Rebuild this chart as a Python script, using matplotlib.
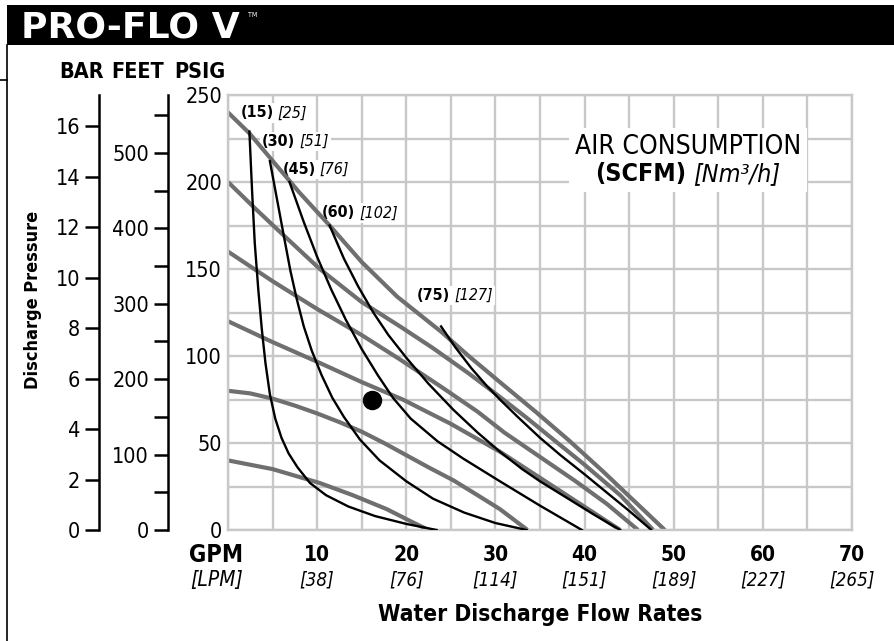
import matplotlib
matplotlib.use("Agg")
import matplotlib.pyplot as plt
from matplotlib.patches import Rectangle
from matplotlib.lines import Line2D
from matplotlib.offsetbox import TextArea, HPacker, VPacker, AnnotationBbox

plt.rcParams['font.family'] = ['DejaVu Sans']
plt.rcParams['font.stretch'] = 'condensed'

W, H = 895, 641

# water flow ticks
gpm_ticks = [10, 20, 30, 40, 50, 60, 70]
lpm_ticks = [38, 76, 114, 151, 189, 227, 265]

# pump curves at fixed air supply pressure (gray): (gpm, psig)
air_curves = {
    240: [(0, 240), (2.4, 228), (4.7, 214), (8, 194), (11.4, 175), (15, 154), (19, 134), (23.9, 114),
          (27, 100), (30.5, 85), (34.5, 68), (38.2, 51.7), (42, 34), (45.5, 17), (49, 0)],
    200: [(0, 200), (3, 185), (6, 170.5), (10.3, 150), (15, 131), (19.3, 117), (23, 104.5), (27, 90),
          (30.5, 76.5), (33.5, 64.5), (36.5, 52), (40, 37.5), (44, 20), (47.7, 0)],
    160: [(0, 160), (5, 143), (10, 127), (15, 112), (19.3, 98), (24, 82), (28, 68), (31, 56),
          (35, 42), (39, 28), (42.5, 15), (46, 0)],
    120: [(0, 120), (5, 108), (10.3, 96), (15, 85), (19.6, 75), (25, 61), (30.5, 45), (35, 30),
          (39.5, 15), (44, 0)],
    80: [(0, 80), (2.5, 78.5), (5, 75.5), (7.5, 71.5), (10, 67), (12.5, 62), (15, 56.5), (17.5, 50),
         (20, 43), (22.5, 36), (25.3, 28.5), (28, 20), (30.5, 12), (33.6, 0)],
    40: [(0, 40), (5, 35), (10.3, 27), (14, 20), (17.8, 12), (20.5, 5), (22.5, 0)],
}

# air consumption curves (black), SCFM: (gpm, psig)
scfm = [15, 30, 45, 60, 75]
nm3h = [25, 51, 76, 102, 127]
consumption_curves = [
    [(2.4, 229), (2.7, 195), (3.0, 165), (3.4, 138), (3.8, 115), (4.2, 96), (4.7, 78), (5.3, 64),
     (6, 53), (6.8, 44), (7.8, 36), (9.2, 27), (11, 20), (13.5, 13.5), (16.5, 8), (20, 3.5), (23.4, 0)],
    [(4.7, 212), (5.5, 190), (6.3, 168), (7, 149), (7.7, 133), (8.5, 117), (9.4, 103), (10.5, 89),
     (11.7, 76), (13, 65), (14.8, 52), (17, 40), (20, 28), (23, 18), (26.5, 10), (30, 4), (33.5, 0)],
    [(6.9, 200), (8.5, 177), (10, 157), (11.6, 138), (13.2, 121), (15, 104), (16.8, 89), (18.5, 76),
     (20.5, 64), (23.5, 51), (26.4, 41), (30.5, 28), (35, 14), (39.7, 0)],
    [(11.4, 175), (13, 156), (14.6, 140), (16.3, 125), (18, 112), (20, 99), (22.5, 84), (25.3, 69),
     (28, 56), (30.5, 45), (33, 35), (35, 28), (38, 18.5), (41, 9), (44, 0)],
    [(23.9, 117), (25.5, 105), (27.3, 93), (29, 83), (30.5, 75), (32.5, 65), (35, 53), (37.3, 43),
     (40, 32), (42.5, 21.5), (45, 11), (47.5, 0)],
]
label_pos = [(1.4, 239.7), (3.8, 223.3), (6.1, 207.2), (10.5, 182.2), (21.2, 135.0)]

# operating point
point_gpm, point_psi = 16.1, 74.7

PSI_PER_BAR = 14.5038
PSI_PER_FOOT = 0.4335


def fx(x):
    return x / W


def fy(y):
    return 1 - y / H


fig = plt.figure(figsize=(W / 100, H / 100), dpi=100)
ax = fig.add_axes([fx(228), fy(530), 624 / W, 435 / H])

grid_c = '#c8c8c8'
ax.set_xlim(0, 70)
ax.set_ylim(0, 250)
ax.set_xticks(range(0, 71, 10))
ax.set_xticks(range(5, 70, 10), minor=True)
ax.set_yticks(range(0, 251, 50))
ax.set_yticks(range(25, 250, 50), minor=True)
ax.set_xticklabels([])
ax.tick_params(axis='both', which='both', length=0)
ax.tick_params(axis='y', labelsize=15.5, pad=4.3)
ax.grid(True, which='both', color=grid_c, lw=1.7)
ax.set_axisbelow(True)
for s in ax.spines.values():
    s.set_color(grid_c)
    s.set_linewidth(1.7)

for psig, pts in air_curves.items():
    xs, ys = zip(*pts)
    ax.plot(xs, ys, color='#6f6f6f', lw=3.0, zorder=2, solid_capstyle='butt', solid_joinstyle='round')

for pts in consumption_curves:
    xs, ys = zip(*pts)
    ax.plot(xs, ys, color='black', lw=1.7, zorder=3, solid_joinstyle='round')

ax.plot(point_gpm, point_psi, 'o', ms=13, color='black', zorder=4)

# SCFM labels
for s, n, (lx, ly) in zip(scfm, nm3h, label_pos):
    box = HPacker(children=[
        TextArea(f"({s})", textprops=dict(fontsize=11.5, fontweight='bold')),
        TextArea(f"[{n}]", textprops=dict(fontsize=11.5, style='italic')),
    ], sep=3, pad=0, align='baseline')
    ab = AnnotationBbox(box, (lx, ly), xycoords='data', box_alignment=(0, 0.5),
                        frameon=True, pad=0.15,
                        bboxprops=dict(facecolor='white', edgecolor='none'))
    ab.set_zorder(1)
    ax.add_artist(ab)

# air consumption legend
legend = VPacker(children=[
    TextArea("AIR CONSUMPTION", textprops=dict(fontsize=19)),
    HPacker(children=[
        TextArea("(SCFM)", textprops=dict(fontsize=18, fontweight='bold')),
        TextArea("[Nm³/h]", textprops=dict(fontsize=18, style='italic')),
    ], sep=5, pad=0, align='baseline'),
], sep=2, pad=0, align='center')
ab = AnnotationBbox(legend, (51.6, 212.6), xycoords='data', box_alignment=(0.5, 0.5),
                    frameon=True, pad=0.4,
                    bboxprops=dict(facecolor='white', edgecolor='none'))
ab.set_zorder(1)
ax.add_artist(ab)

# x tick labels
xt = ax.get_xaxis_transform()
for g, l in zip(gpm_ticks, lpm_ticks):
    ax.text(g, -0.058, str(g), transform=xt, ha='center', va='center', fontsize=15, fontweight='bold')
    ax.text(g, -0.115, f"[{l}]", transform=xt, ha='center', va='center', fontsize=13.5, style='italic')
ax.text(-1.35, -0.058, "GPM", transform=xt, ha='center', va='center', fontsize=17, fontweight='bold')
ax.text(-1.25, -0.115, "[LPM]", transform=xt, ha='center', va='center', fontsize=15, style='italic')

# bar and feet axes
bar_ax = ax.secondary_yaxis(-(228 - 99) / 624,
                            functions=(lambda p: p / PSI_PER_BAR, lambda b: b * PSI_PER_BAR))
bar_ax.set_yticks(range(0, 17, 2))
feet_ax = ax.secondary_yaxis(-(228 - 167.7) / 624,
                             functions=(lambda p: p / PSI_PER_FOOT, lambda f: f * PSI_PER_FOOT))
feet_ax.set_yticks(range(0, 501, 100))
feet_ax.set_yticks(range(50, 551, 100), minor=True)
for sa in (bar_ax, feet_ax):
    sa.spines['left'].set_linewidth(1.8)
    sa.tick_params(which='both', direction='out', length=10, width=1.8, labelsize=15.5, pad=3.5)

# header and frame
fig.add_artist(Rectangle((fx(7), fy(45)), 1 - fx(7), 40 / H, transform=fig.transFigure,
                         facecolor='black', edgecolor='none'))
fig.add_artist(Line2D([fx(7.5), fx(7.5)], [0, fy(45)], transform=fig.transFigure, color='black', lw=1.2))
fig.add_artist(Line2D([0, fx(7.5)], [fy(80), fy(80)], transform=fig.transFigure, color='black', lw=1.2))
fig.text(fx(21), fy(38), "PRO-FLO V", color='white', fontsize=26, fontweight='heavy',
         family='DejaVu Sans', fontstretch='normal', ha='left', va='baseline')
fig.text(fx(248), fy(12), "TM", color='white', fontsize=5, ha='left', va='top')

for txt, x in (("BAR", 82), ("FEET", 138), ("PSIG", 200)):
    fig.text(fx(x), fy(71.5), txt, fontsize=15.5, fontweight='bold', ha='center', va='center')
fig.text(fx(33), fy(300), "Discharge Pressure", rotation=90, fontsize=13, fontweight='bold',
         ha='center', va='center')
fig.text(fx(540), fy(614), "Water Discharge Flow Rates", fontsize=16.3, fontweight='bold',
         ha='center', va='center')

fig.savefig("out.png", dpi=100)
